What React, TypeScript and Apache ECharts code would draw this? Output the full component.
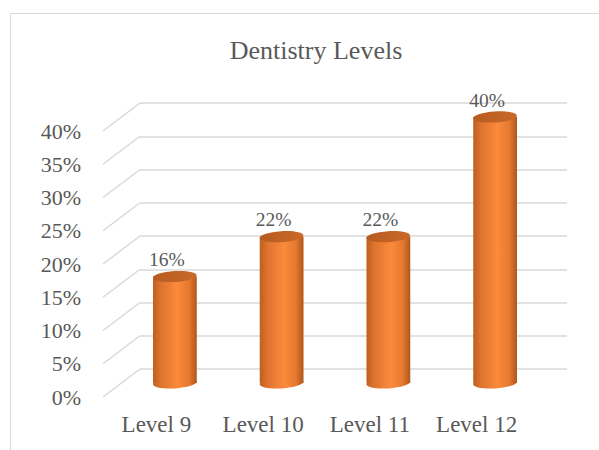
import React, { useEffect, useRef } from "react";
import * as echarts from "echarts";

const categories = ["Level 9", "Level 10", "Level 11", "Level 12"];
const values = [16, 22, 22, 40];
const yTicks = [0, 5, 10, 15, 20, 25, 30, 35, 40];
const titleText = "Dentistry Levels";

const FONT = "'Liberation Serif', 'Times New Roman', serif";
const TEXT = "#595959";
const GRID = "#d9d9d9";
const DX = 37; // depth offset (px) back -> front, leftwards
const DY = 28; // depth offset (px) back -> front, downwards

export default function App() {
  const ref = useRef<HTMLDivElement>(null);
  useEffect(() => {
    if (!ref.current) return;
    const chart = echarts.init(ref.current, undefined, { renderer: "svg" });
    const bodyGrad = () =>
      new echarts.graphic.LinearGradient(0, 0, 1, 0, [
        { offset: 0, color: "#bf5f1e" },
        { offset: 0.18, color: "#de7430" },
        { offset: 0.55, color: "#fb8a3b" },
        { offset: 0.82, color: "#e67a31" },
        { offset: 1, color: "#b0561b" },
      ]);
    const topGrad = () =>
      new echarts.graphic.LinearGradient(0, 0, 1, 0, [
        { offset: 0, color: "#b85b1f" },
        { offset: 1, color: "#c9692a" },
      ]);
    chart.setOption({
      animation: false,
      backgroundColor: "#ffffff",
      title: {
        text: titleText,
        left: 311,
        top: 32,
        textAlign: "center",
        textStyle: { fontFamily: FONT, fontSize: 26, fontWeight: "normal", color: TEXT },
      },
      graphic: [
        {
          type: "rect",
          shape: { x: 10.5, y: 13.5, width: 700, height: 600 },
          style: { fill: "none", stroke: GRID, lineWidth: 1 },
          silent: true,
          z: -10,
        },
      ],
      grid: [
        { left: 140, top: 103, width: 427, height: 266 },
        { left: 103, top: 131, width: 427, height: 266 },
      ],
      xAxis: [
        {
          gridIndex: 0,
          type: "category",
          data: categories,
          axisLabel: { show: false },
          axisLine: { show: false },
          axisTick: { show: false },
        },
        {
          gridIndex: 1,
          type: "category",
          data: categories,
          axisLine: { show: false },
          axisTick: { show: false },
          axisLabel: { fontFamily: FONT, fontSize: 23, color: TEXT, margin: 16 },
        },
      ],
      yAxis: [
        {
          gridIndex: 0,
          type: "value",
          min: 0,
          max: 40,
          interval: 5,
          axisLabel: { show: false },
          axisLine: { show: false },
          axisTick: { show: false },
          splitLine: { lineStyle: { color: GRID, width: 1.5 } },
        },
        {
          gridIndex: 1,
          type: "value",
          min: 0,
          max: 40,
          interval: 5,
          axisLine: { show: false },
          axisTick: { show: false },
          splitLine: { show: false },
          axisLabel: {
            fontFamily: FONT,
            fontSize: 22,
            color: TEXT,
            margin: 22,
            formatter: "{value}%",
          },
        },
      ],
      series: [
        {
          type: "custom",
          name: "depth",
          xAxisIndex: 0,
          yAxisIndex: 0,
          silent: true,
          z: 1,
          data: yTicks.map((t) => [0, t]),
          renderItem: (params: any, api: any) => {
            const p = api.coord([0, api.value(1)]);
            const x0 = params.coordSys.x;
            return {
              type: "line",
              shape: { x1: x0, y1: p[1], x2: x0 - DX, y2: p[1] + DY },
              style: { stroke: GRID, lineWidth: 1.5 },
            };
          },
        },
        {
          type: "custom",
          name: "Dentistry Levels",
          xAxisIndex: 0,
          yAxisIndex: 0,
          z: 5,
          data: values.map((v, i) => [i, v]),
          renderItem: (params: any, api: any) => {
            const i = api.value(0);
            const v = api.value(1);
            const top = api.coord([i, v]);
            const base = api.coord([i, 0]);
            const band = api.size([1, 0])[0];
            const w = band * 0.41;
            const rx = w / 2;
            const ry = 5.5;
            const cx = top[0] - DX / 2;
            const yTop = top[1] + DY / 2;
            const yBase = base[1] + DY / 2;
            const rot = 0.06;
            return {
              type: "group",
              children: [
                {
                  type: "ellipse",
                  shape: { cx, cy: yBase, rx, ry },
                  originX: cx,
                  originY: yBase,
                  rotation: rot,
                  style: { fill: bodyGrad() },
                },
                {
                  type: "rect",
                  shape: { x: cx - rx, y: yTop, width: w, height: yBase - yTop },
                  style: { fill: bodyGrad() },
                },
                {
                  type: "ellipse",
                  shape: { cx, cy: yTop, rx, ry },
                  originX: cx,
                  originY: yTop,
                  rotation: rot,
                  style: { fill: topGrad() },
                },
                {
                  type: "text",
                  x: cx - 8,
                  y: yTop - 17,
                  style: {
                    text: v + "%",
                    fontFamily: FONT,
                    fontSize: 19.5,
                    fill: TEXT,
                    align: "center",
                    verticalAlign: "middle",
                  },
                },
              ],
            };
          },
        },
      ],
    });
    return () => chart.dispose();
  }, []);
  return (
    <div
      ref={ref}
      style={{ position: "fixed", left: 0, top: 0, width: 599, height: 450, background: "#fff" }}
    />
  );
}
